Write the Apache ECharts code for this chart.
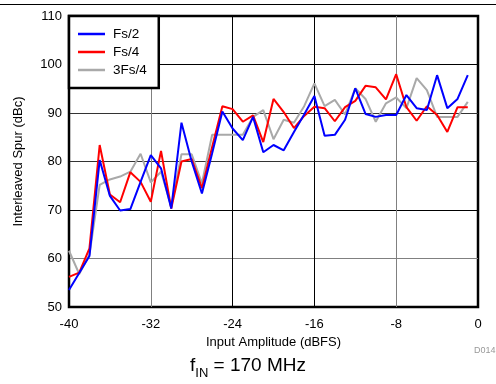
<!DOCTYPE html>
<html>
<head>
<meta charset="utf-8">
<script src="https://cdn.jsdelivr.net/npm/echarts@6/dist/echarts.min.js"></script>
<style>html,body{margin:0;padding:0;background:#fff;}#c{width:496px;height:384px;}</style>
</head>
<body>
<div id="c"></div>
<script>
const amplitudes = [-40,-39,-38,-37,-36,-35,-34,-33,-32,-31,-30,-29,-28,-27,-26,-25,-24,-23,-22,-21,-20,-19,-18,-17,-16,-15,-14,-13,-12,-11,-10,-9,-8,-7,-6,-5,-4,-3,-2,-1];
const fs2 = [53.5,57,60.5,80.3,72.9,69.9,70.2,75.8,81.3,78.6,70.3,88,80,73.4,81.7,90.3,86.8,84.4,89.2,81.9,83.4,82.3,86.1,89.7,93.5,85.3,85.5,88.6,95.1,89.8,89.2,89.6,89.6,93.7,91,90.6,97.8,91,92.9,97.8];
const fs4 = [56.2,57.1,62.1,83.4,73.2,71.6,77.8,75.8,71.7,82.2,70.3,80,80.5,74.5,83,91.4,90.8,88.2,89.5,84,92.9,90.2,86.9,89.4,91.3,91,88.3,91.2,92.5,95.6,95.3,92.8,98,91.2,88.4,91.4,89.6,86.1,91.2,91.2];
const fs34 = [61.6,56.8,60.8,75.2,76.3,76.9,77.9,81.6,75.7,77.9,70.7,81.5,81.5,75.5,85.5,85.5,85.5,85.5,89.2,90.6,84.6,88.6,88,91.4,96.1,91.4,92.7,89.7,95.1,92.9,88.2,92,93.2,91,97.2,94.7,89.2,89.2,89.2,92.3];
const seriesNames = ['Fs/2','Fs/4','3Fs/4'];
const xTicks = [-40,-32,-24,-16,-8,0];
const yTicks = [50,60,70,80,90,100,110];

const font = 'Liberation Sans, Arial, sans-serif';
const chart = echarts.init(document.getElementById('c'), null, {renderer:'canvas'});
function pairs(ys){ return amplitudes.map((x,i)=>[x, ys[i]]); }
const colors = ['#0000ff','#ff0000','#a9a9a9'];
const datasets = [fs2, fs4, fs34];
chart.setOption({
  animation:false,
  textStyle:{fontFamily:font},
  grid:{left:69,right:18,top:16,bottom:77,show:true,borderColor:'#000',borderWidth:2.5,backgroundColor:'transparent'},
  xAxis:{type:'value',min:xTicks[0],max:xTicks[xTicks.length-1],interval:8,
    axisLine:{show:false},axisTick:{show:false},
    axisLabel:{color:'#000',fontSize:13,fontFamily:font,margin:11},
    splitLine:{show:true,lineStyle:{color:['#000','#808080','#000','#000','#808080','#000'],width:1}},
    name:'Input Amplitude (dBFS)',nameLocation:'middle',nameGap:29,
    nameTextStyle:{color:'#000',fontSize:13,fontFamily:font}},
  yAxis:{type:'value',min:yTicks[0],max:yTicks[yTicks.length-1],interval:10,
    axisLine:{show:false},axisTick:{show:false},
    axisLabel:{color:'#000',fontSize:13,fontFamily:font,margin:7},
    splitLine:{show:true,lineStyle:{color:['#000','#808080','#000','#333','#333','#000','#000'],width:1}},
    name:'Interleaved Spur (dBc)',nameLocation:'middle',nameGap:44,
    nameTextStyle:{color:'#000',fontSize:13,fontFamily:font}},
  legend:{orient:'vertical',left:69,top:16,data:seriesNames,icon:'rect',
    backgroundColor:'#fff',borderColor:'#000',borderWidth:2.5,borderRadius:0,
    padding:[11,12,11,9],itemWidth:27,itemHeight:2.5,itemGap:4,
    textStyle:{color:'#000',fontSize:13.5,lineHeight:14,fontFamily:font,padding:[0,0,0,3]}},
  series: seriesNames.map((n,i)=>({name:n,type:'line',data:pairs(datasets[i]),symbol:'none',
    color:colors[i],itemStyle:{color:colors[i]},lineStyle:{color:colors[i],width:2},z:3-i+2})),
  graphic:[
    {type:'line',shape:{x1:0,y1:4.5,x2:496,y2:4.5},style:{stroke:'#000',lineWidth:1}},
    {type:'text',left:474,top:346,style:{text:'D014',fill:'#999',fontSize:9,fontFamily:font}},
    {type:'text',left:'center',top:356,style:{
      text:'{a|f}{b|IN}{a| = 170 MHz}',
      rich:{a:{fontSize:19,fontFamily:font,color:'#000',verticalAlign:'bottom'},
            b:{fontSize:13,fontFamily:font,color:'#000',verticalAlign:'bottom',padding:[0,0,-5,0]}}}}
  ]
});
</script>
</body>
</html>
